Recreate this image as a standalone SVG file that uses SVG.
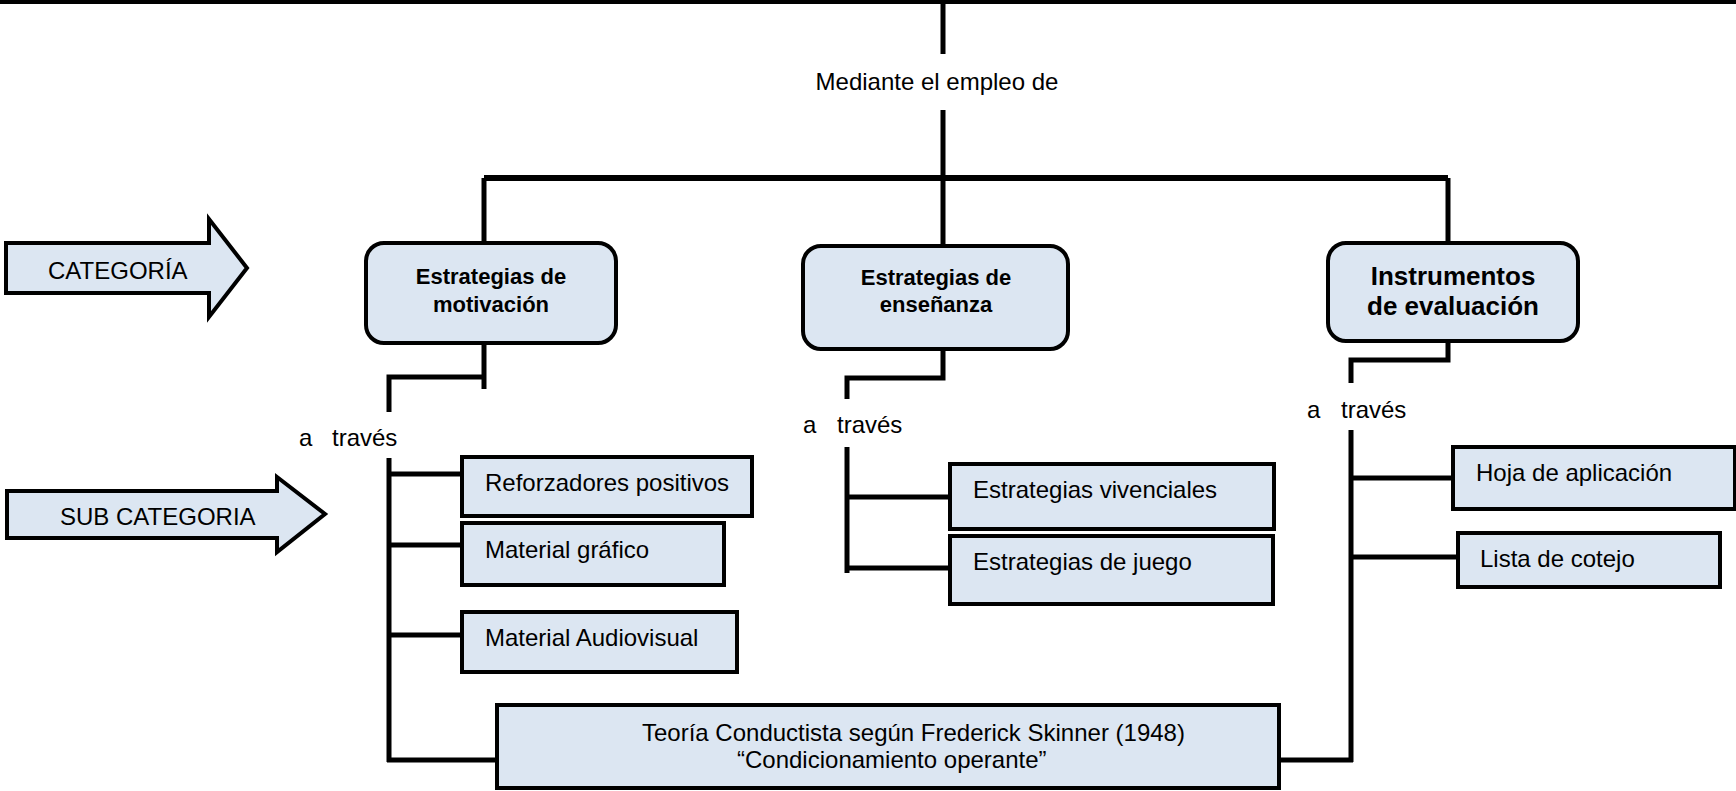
<svg xmlns="http://www.w3.org/2000/svg" width="1736" height="791" viewBox="0 0 1736 791">
<style>
.t{font-family:"Liberation Sans",Arial,sans-serif;font-size:24px;fill:#000}
.b{font-family:"Liberation Sans",Arial,sans-serif;font-weight:bold;font-size:22px;fill:#000;text-anchor:middle}
.cat{fill:#dce6f2;stroke:#000;stroke-width:4;rx:18;ry:18}
.sub{fill:#dce6f2;stroke:#000;stroke-width:4}
.arr{fill:#dce6f2;stroke:#000;stroke-width:4;stroke-linejoin:miter}
.c{fill:none;stroke:#000;stroke-width:5}
</style>
<rect width="1736" height="791" fill="#fff"/>
<g id="connectors">
<rect x="0" y="0" width="1736" height="4" fill="#000"/>
<line class="c" x1="943" y1="4" x2="943" y2="54"/>
<line class="c" x1="943" y1="110" x2="943" y2="246"/>
<line class="c" x1="484" y1="178" x2="1448" y2="178" style="stroke-width:6"/>
<line class="c" x1="484" y1="178" x2="484" y2="243"/>
<line class="c" x1="1448" y1="178" x2="1448" y2="243"/>
<!-- left -->
<line class="c" x1="484" y1="343" x2="484" y2="389"/>
<polyline class="c" points="484,377 389,377 389,412"/>
<line class="c" x1="389" y1="458" x2="389" y2="762"/>
<line class="c" x1="389" y1="474" x2="462" y2="474"/>
<line class="c" x1="389" y1="545" x2="462" y2="545"/>
<line class="c" x1="389" y1="635" x2="462" y2="635"/>
<line class="c" x1="387" y1="760" x2="497" y2="760"/>
<!-- middle -->
<polyline class="c" points="943,349 943,378 847,378 847,399"/>
<line class="c" x1="847" y1="447" x2="847" y2="573"/>
<line class="c" x1="847" y1="497" x2="948" y2="497"/>
<line class="c" x1="847" y1="568" x2="948" y2="568"/>
<!-- right -->
<polyline class="c" points="1448,341 1448,360 1351,360 1351,383"/>
<line class="c" x1="1351" y1="430" x2="1351" y2="762"/>
<line class="c" x1="1351" y1="478" x2="1451" y2="478"/>
<line class="c" x1="1351" y1="557" x2="1456" y2="557"/>
<line class="c" x1="1279" y1="760" x2="1353" y2="760"/>
</g>
<g id="label-mediante"><text class="t" x="937" y="90" text-anchor="middle">Mediante el empleo de</text></g>
<g id="arrow-categoria">
<polygon class="arr" points="6,243 209,243 209,219 247,268 209,317 209,293 6,293"/>
<text class="t" x="48" y="279">CATEGORÍA</text>
</g>
<g id="arrow-subcategoria">
<polygon class="arr" points="7,491 277,491 277,477 325,514 277,552 277,538 7,538"/>
<text class="t" x="60" y="525">SUB CATEGORIA</text>
</g>
<g id="node-motivacion">
<rect class="cat" x="366" y="243" width="250" height="100"/>
<text class="b" x="491" y="284">Estrategias de</text>
<text class="b" x="491" y="312">motivación</text>
</g>
<g id="node-ensenanza">
<rect class="cat" x="803" y="246" width="265" height="103"/>
<text class="b" x="936" y="285">Estrategias de</text>
<text class="b" x="936" y="312">enseñanza</text>
</g>
<g id="node-instrumentos">
<rect class="cat" x="1328" y="243" width="250" height="98"/>
<text class="b" x="1453" y="285" style="font-size:26px">Instrumentos</text>
<text class="b" x="1453" y="315" style="font-size:26px">de evaluación</text>
</g>
<g id="label-traves-1"><text class="t" y="446"><tspan x="299">a</tspan><tspan x="332">través</tspan></text></g>
<g id="label-traves-2"><text class="t" y="433"><tspan x="803">a</tspan><tspan x="837">través</tspan></text></g>
<g id="label-traves-3"><text class="t" y="418"><tspan x="1307">a</tspan><tspan x="1341">través</tspan></text></g>
<g id="node-reforzadores">
<rect class="sub" x="462" y="457" width="290" height="59"/>
<text class="t" x="485" y="491">Reforzadores positivos</text>
</g>
<g id="node-grafico">
<rect class="sub" x="462" y="523" width="262" height="62"/>
<text class="t" x="485" y="558">Material gráfico</text>
</g>
<g id="node-audiovisual">
<rect class="sub" x="462" y="612" width="275" height="60"/>
<text class="t" x="485" y="646">Material Audiovisual</text>
</g>
<g id="node-vivenciales">
<rect class="sub" x="950" y="464" width="324" height="65"/>
<text class="t" x="973" y="498">Estrategias vivenciales</text>
</g>
<g id="node-juego">
<rect class="sub" x="950" y="536" width="323" height="68"/>
<text class="t" x="973" y="570">Estrategias de juego</text>
</g>
<g id="node-hoja">
<rect class="sub" x="1453" y="447" width="282" height="62"/>
<text class="t" x="1476" y="481">Hoja de aplicación</text>
</g>
<g id="node-lista">
<rect class="sub" x="1458" y="533" width="262" height="54"/>
<text class="t" x="1480" y="567">Lista de cotejo</text>
</g>
<g id="node-teoria">
<rect class="sub" x="497" y="705" width="782" height="83"/>
<text class="t" x="642" y="741">Teoría Conductista según Frederick Skinner (1948)</text>
<text class="t" x="737" y="768">“Condicionamiento operante”</text>
</g>
</svg>
